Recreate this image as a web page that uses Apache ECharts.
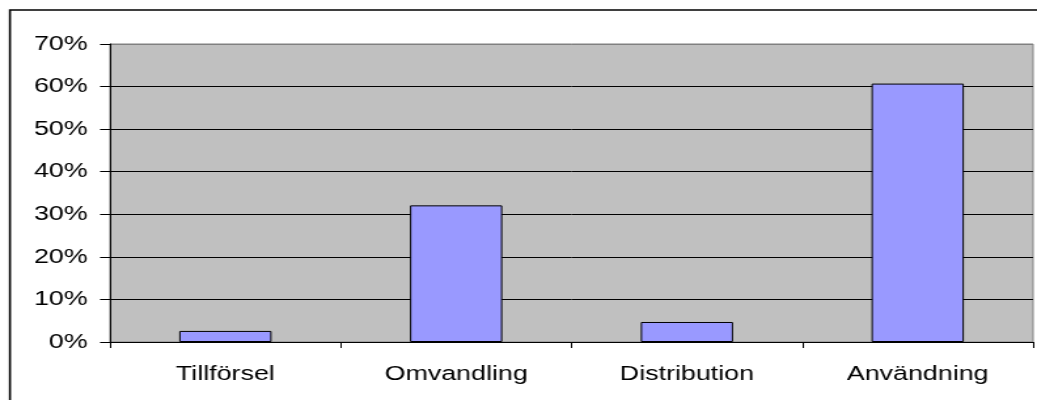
<!DOCTYPE html>
<html>
<head>
<meta charset="utf-8">
<script src="https://cdn.jsdelivr.net/npm/echarts@6/dist/echarts.min.js"></script>
<style>
  html, body { margin: 0; padding: 0; background: #fff; }
  #wrap { width: 1037px; height: 400px; overflow: hidden; position: relative; }
  /* chart is laid out at 792px and stretched horizontally to fill the page */
  #chart { width: 792px; height: 400px; transform: scaleX(1.309343); transform-origin: 0 0; }
</style>
</head>
<body>
<div id="wrap"><div id="chart"></div></div>
<script>
const categories = ['Tillförsel', 'Omvandling', 'Distribution', 'Användning'];
const shares = [2.6, 32.1, 4.7, 60.7];
const yTicks = [0, 10, 20, 30, 40, 50, 60, 70];

const font = '"Liberation Sans", Arial, sans-serif';
const chart = echarts.init(document.getElementById('chart'), null, { renderer: 'canvas' });

chart.setOption({
  animation: false,
  backgroundColor: '#ffffff',
  graphic: [{
    type: 'rect',
    z: 100,
    shape: { x: 7.6, y: 10, width: 900, height: 600 },
    style: { fill: 'none', stroke: '#000', lineWidth: 1.6 }
  }],
  grid: {
    left: 84, right: 3, top: 44, bottom: 58,
    show: true,
    backgroundColor: '#C0C0C0',
    borderColor: '#808080',
    borderWidth: 1
  },
  xAxis: {
    type: 'category',
    data: categories,
    boundaryGap: true,
    axisLine: { lineStyle: { color: '#000', width: 1 } },
    axisTick: { show: true, alignWithLabel: false, length: 6, lineStyle: { color: '#000' } },
    axisLabel: { color: '#000', fontSize: 20.5, fontFamily: font, margin: 22 },
    splitLine: { show: false }
  },
  yAxis: {
    type: 'value',
    min: yTicks[0],
    max: yTicks[yTicks.length - 1],
    interval: 10,
    axisLine: { show: true, lineStyle: { color: '#000', width: 1 } },
    axisTick: { show: true, length: 7.6, lineStyle: { color: '#000' } },
    axisLabel: { color: '#000', fontSize: 20.5, fontFamily: font, margin: 17, formatter: '{value}%' },
    splitLine: {
      show: true,
      lineStyle: { color: ['#000', '#000', '#000', '#000', '#000', '#000', '#000', '#808080'], width: 1 }
    }
  },
  series: [{
    type: 'bar',
    data: shares,
    barWidth: '40%',
    itemStyle: { color: '#9999FF', borderColor: '#000', borderWidth: 1 }
  }]
});
</script>
</body>
</html>
